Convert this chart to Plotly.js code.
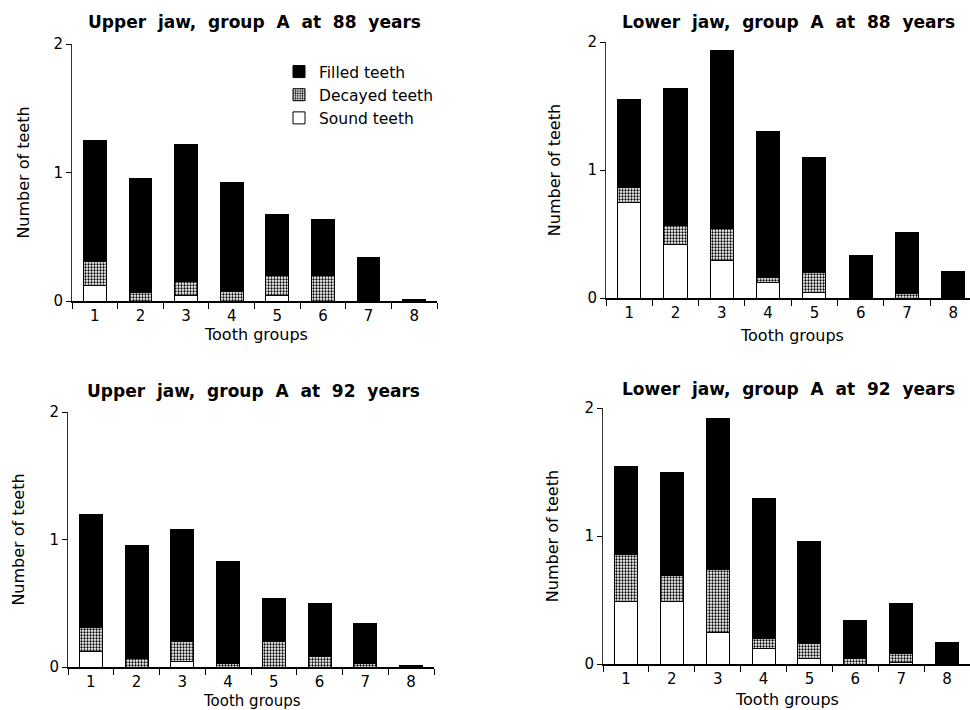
<!DOCTYPE html>
<html>
<head>
<meta charset="utf-8">
<script src="https://cdn.plot.ly/plotly-3.0.1.min.js"></script>
<style>html,body{margin:0;padding:0;background:#fff;}#chart{width:970px;height:710px;}</style>
</head>
<body>
<div id="chart"></div>
<script>
// ---- data ----
var toothGroups = ['1','2','3','4','5','6','7','8'];
var panelTitles = [
  'Upper  jaw,  group  A  at  88  years',
  'Lower  jaw,  group  A  at  88  years',
  'Upper  jaw,  group  A  at  92  years',
  'Lower  jaw,  group  A  at  92  years'
];
var xAxisTitle = 'Tooth groups';
var yAxisTitle = 'Number of teeth';
var seriesNames = ['Sound teeth', 'Decayed teeth', 'Filled teeth'];

var upper88Sound   = [0.12, 0.00, 0.04, 0.00, 0.04, 0.00, 0.00, 0.00];
var upper88Decayed = [0.19, 0.07, 0.115, 0.075, 0.16, 0.20, 0.00, 0.00];
var upper88Filled  = [0.94, 0.885, 1.06, 0.85, 0.47, 0.435, 0.34, 0.01];

var lower88Sound   = [0.75, 0.415, 0.29, 0.12, 0.045, 0.00, 0.00, 0.00];
var lower88Decayed = [0.115, 0.155, 0.25, 0.04, 0.155, 0.00, 0.035, 0.00];
var lower88Filled  = [0.685, 1.065, 1.395, 1.14, 0.895, 0.33, 0.475, 0.21];

var upper92Sound   = [0.12, 0.00, 0.04, 0.00, 0.00, 0.00, 0.00, 0.00];
var upper92Decayed = [0.19, 0.07, 0.16, 0.03, 0.20, 0.08, 0.03, 0.00];
var upper92Filled  = [0.89, 0.88, 0.88, 0.80, 0.34, 0.42, 0.31, 0.01];

var lower92Sound   = [0.49, 0.49, 0.25, 0.12, 0.04, 0.00, 0.01, 0.00];
var lower92Decayed = [0.365, 0.20, 0.485, 0.08, 0.12, 0.04, 0.075, 0.00];
var lower92Filled  = [0.685, 0.81, 1.185, 1.09, 0.80, 0.30, 0.385, 0.17];

var panels = [
  [upper88Sound, upper88Decayed, upper88Filled],
  [lower88Sound, lower88Decayed, lower88Filled],
  [upper92Sound, upper92Decayed, upper92Filled],
  [lower92Sound, lower92Decayed, lower92Filled]
];

// ---- layout geometry (pixels) ----
var W = 970, H = 710;
function px(x){ return x / W; }
function py(y){ return 1 - y / H; }
var geo = [
  {x0:72,  x1:437, y0:301, y2:44,  xr:[-0.5, 7.5],  titleX:254, titleY:22,  xtX:256, xtY:334, xtS:16, yst:19},
  {x0:606, x1:970, y0:298, y2:42,  xr:[-0.5, 7.36], titleX:788, titleY:22,  xtX:792, xtY:335, xtS:16, yst:22},
  {x0:68,  x1:434, y0:667, y2:412, xr:[-0.5, 7.5],  titleX:253, titleY:391, xtX:252, xtY:700.5, xtS:15, yst:20},
  {x0:603, x1:970, y0:664, y2:408, xr:[-0.5, 7.5],  titleX:788, titleY:389, xtX:787, xtY:699.5, xtS:16, yst:21}
];

var fills = [
  {color:'#ffffff', pattern:{shape:''}},
  {color:'#ffffff', pattern:{shape:'.', fgcolor:'#000000', bgcolor:'#ffffff', size:3, solidity:0.45}},
  {color:'#000000', pattern:{shape:''}}
];

var traces = [];
var layout = {
  width: W, height: H,
  margin: {l:0, r:0, t:0, b:0},
  paper_bgcolor: '#ffffff', plot_bgcolor: '#ffffff',
  barmode: 'stack', bargap: 0.5,
  font: {family: 'DejaVu Sans, sans-serif', color: '#000000', size: 14},
  showlegend: true,
  legend: {
    x: px(279), y: py(55), xanchor: 'left', yanchor: 'top',
    traceorder: 'reversed', bgcolor: 'rgba(0,0,0,0)',
    font: {size: 15.5, family: 'DejaVu Sans, sans-serif'},
    itemwidth: 30, tracegroupgap: 0
  },
  annotations: []
};

panels.forEach(function(p, i){
  var g = geo[i];
  var xa = 'x' + (i === 0 ? '' : (i+1));
  var ya = 'y' + (i === 0 ? '' : (i+1));
  p.forEach(function(vals, s){
    traces.push({
      type: 'bar', x: toothGroups, y: vals, name: seriesNames[s],
      xaxis: xa, yaxis: ya,
      showlegend: i === 0,
      legendgroup: seriesNames[s],
      marker: {color: fills[s].color, pattern: fills[s].pattern, line: {color: '#000000', width: 1}},
      hoverinfo: 'skip'
    });
  });
  var xkey = 'xaxis' + (i === 0 ? '' : (i+1));
  var ykey = 'yaxis' + (i === 0 ? '' : (i+1));
  layout[xkey] = {
    domain: [px(g.x0), px(g.x1)], anchor: ya, type: 'category',
    range: g.xr, tickson: 'boundaries', ticks: 'outside', ticklen: 6, tickwidth: 1, tickcolor: '#000',
    showline: true, linecolor: '#000000', linewidth: 1.5, showgrid: false, zeroline: false,
    tickfont: {size: 15}, fixedrange: true
  };
  layout[ykey] = {
    domain: [py(g.y0), py(g.y2)], anchor: xa, range: [0, 2],
    tickvals: [0, 1, 2], ticktext: ['0', '1', '2'], ticks: 'outside', ticklen: 5, tickcolor: '#000',
    showline: true, linecolor: '#333333', linewidth: 1, showgrid: false, zeroline: false,
    tickfont: {size: 15}, fixedrange: true,
    title: {text: yAxisTitle, font: {size: 16}, standoff: g.yst}
  };
  layout.annotations.push({
    text: panelTitles[i], xref: 'paper', yref: 'paper', x: px(g.titleX), y: py(g.titleY),
    xanchor: 'center', yanchor: 'middle', showarrow: false,
    font: {size: 17, family: 'DejaVu Sans, sans-serif', color: '#000', weight: 'bold'}
  });
  layout.annotations.push({
    text: xAxisTitle, xref: 'paper', yref: 'paper', x: px(g.xtX), y: py(g.xtY),
    xanchor: 'center', yanchor: 'middle', showarrow: false,
    font: {size: g.xtS, family: 'DejaVu Sans, sans-serif', color: '#000'}
  });
});

Plotly.newPlot('chart', traces, layout, {displayModeBar: false, staticPlot: true});
</script>
</body>
</html>
